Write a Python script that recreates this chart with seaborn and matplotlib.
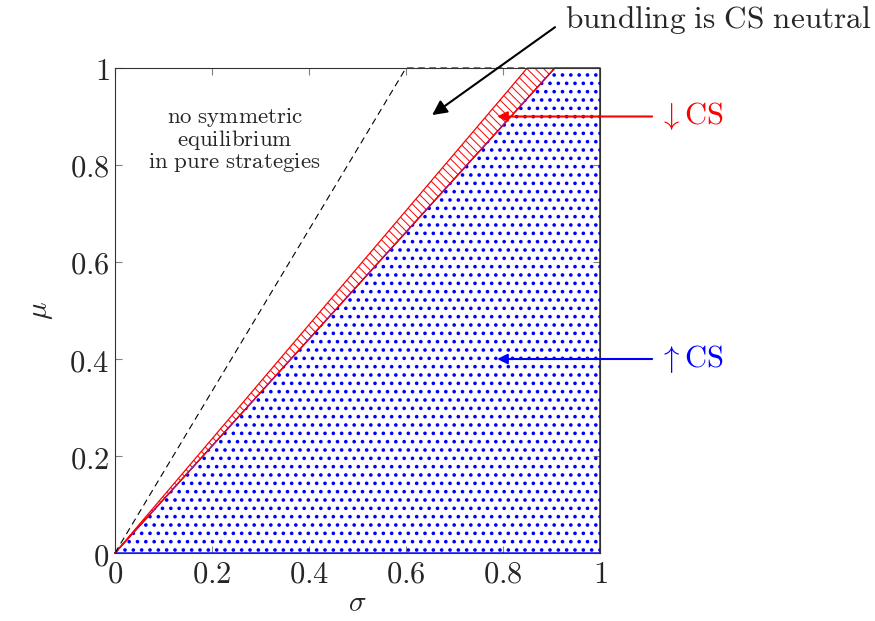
import matplotlib
matplotlib.use('Agg')
from matplotlib import pyplot as plt
import pandas as pd
import seaborn as sns

# region boundaries (sigma as a function of mu)
mu = [0, 1]
red_left = [0, 0.85]
red_right = [0, 0.907]
blue_left = [0, 0.907]
blue_right = [1, 1]

# CS-neutral dashed boundary
neutral_sigma = [0, 0.6, 0.85]
neutral_mu = [0, 1, 1]

ticks = [0, 0.2, 0.4, 0.6, 0.8, 1]
tick_labels = ['$0$', '$0.2$', '$0.4$', '$0.6$', '$0.8$', '$1$']
note_lines = ['no symmetric', 'equilibrium', 'in pure strategies']

sns.set_theme(style='ticks')
plt.rcParams['mathtext.fontset'] = 'cm'
plt.rcParams['font.family'] = ['DejaVu Serif']


def m(s):
    return '$\\mathrm{' + s.replace(' ', '\\ ') + '}$'


f = plt.figure(figsize=(8.75, 6.21), dpi=100)
ax = f.add_axes([0.1314, 0.1095, 0.5543, 0.781])

plt.rcParams['hatch.linewidth'] = 1.4
ax.fill_betweenx(mu, blue_left, blue_right, facecolor='none', edgecolor='blue',
                 hatch='..', linewidth=0)
ax.plot(blue_left + blue_right[::-1] + [0], mu + mu[::-1] + [0], color='blue', lw=1, clip_on=False)

plt.rcParams['hatch.linewidth'] = 0.7
ax.fill_betweenx(mu, red_left, red_right, facecolor='none', edgecolor='red',
                 hatch='\\\\\\\\', linewidth=0)
ax.plot(red_left + red_right[::-1] + [0], mu + mu[::-1] + [0], color='red', lw=0.9, clip_on=False)

df = pd.DataFrame({'sigma': neutral_sigma, 'mu': neutral_mu})
sns.lineplot(data=df, x='sigma', y='mu', sort=False, color='black', lw=0.8,
             linestyle=(0, (6, 4)), ax=ax, clip_on=False)

ax.set_xlim(0, 1)
ax.set_ylim(0, 1)
ax.set_xticks(ticks)
ax.set_yticks(ticks)
ax.set_xticklabels(tick_labels, fontsize=22)
ax.set_yticklabels(tick_labels, fontsize=22)
ax.tick_params(direction='in', top=True, right=True, length=5, color='0.5', width=0.8, pad=4)
for s in ax.spines.values():
    s.set_color('0.2')
    s.set_linewidth(0.8)
ax.set_xlabel(r'$\sigma$', fontsize=21, labelpad=0)
ax.set_ylabel(r'$\mu$', fontsize=21, labelpad=10)

for i, line in enumerate(note_lines):
    ax.text(0.247, 0.897 - 0.0455 * i, m(line), ha='center', va='center', fontsize=16.5)

ax.annotate(m('bundling is CS neutral'), xy=(0.654, 0.903), xytext=(0.928, 1.099),
            fontsize=22.5, ha='left', va='center', annotation_clip=False,
            arrowprops=dict(arrowstyle='-|>', color='black', lw=1.5, mutation_scale=22,
                            shrinkA=6, shrinkB=0, relpos=(0, 0.5)))
ax.annotate(r'$\downarrow\mathrm{CS}$', xy=(0.788, 0.9), xytext=(1.12, 0.9), color='red',
            fontsize=22, ha='left', va='center', annotation_clip=False,
            arrowprops=dict(arrowstyle='-|>', color='red', lw=1.5, mutation_scale=15,
                            shrinkA=2, shrinkB=0, relpos=(0, 0.5)))
ax.annotate(r'$\uparrow\mathrm{CS}$', xy=(0.788, 0.4), xytext=(1.12, 0.4), color='blue',
            fontsize=22, ha='left', va='center', annotation_clip=False,
            arrowprops=dict(arrowstyle='-|>', color='blue', lw=1.5, mutation_scale=15,
                            shrinkA=2, shrinkB=0, relpos=(0, 0.5)))

f.savefig('out.png', dpi=100)
